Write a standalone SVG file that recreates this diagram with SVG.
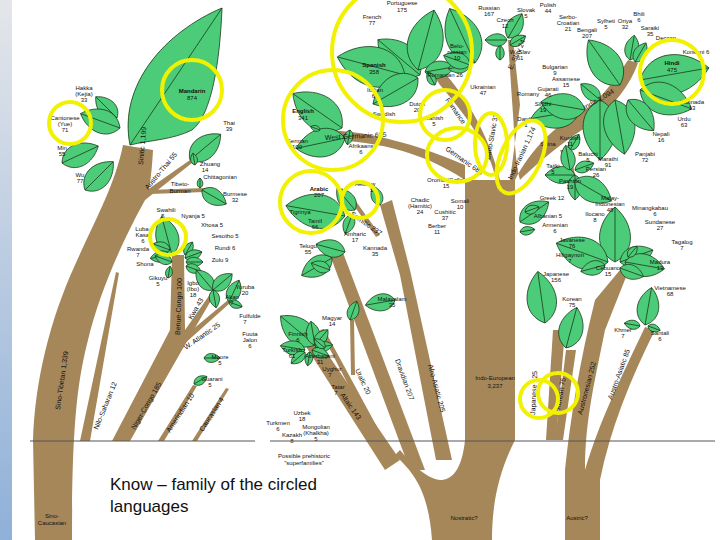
<svg xmlns="http://www.w3.org/2000/svg" width="720" height="540" viewBox="0 0 720 540">
<defs>
<linearGradient id="side" x1="0" y1="0" x2="0" y2="1"><stop offset="0" stop-color="#e4e6ea"/><stop offset="1" stop-color="#8fb0d8"/></linearGradient>
<path id="leaf" d="M0,0 C0.2,-0.4 0.7,-0.35 1,0 C0.7,0.35 0.2,0.4 0,0 Z M0,0 L1,0" fill="#4ccc78" stroke="#1a3a1a" stroke-width="0.8" vector-effect="non-scaling-stroke"/>
</defs>
<style>
.br{fill:#a6875a}
.lf path{fill:#4ccc78;stroke:#1a3a1a;stroke-width:0.8}
text{font-family:"Liberation Sans",Arial,sans-serif;fill:#111}
.s{font-size:6px;text-anchor:middle}
.yc{fill:none;stroke:#f2f200;stroke-width:4}
</style>
<rect width="720" height="540" fill="#fff"/>
<rect width="12" height="540" fill="url(#side)"/>
<g id="connectors">
<path class="br" d="M35,540 L33,440 C35,380 50,320 75,265 C95,220 115,185 123,145 L153,150 C152,170 150,185 148,195 C125,235 100,290 88,340 C78,380 72,420 72,540 Z"/>
<path class="br" d="M140,195 L190,160 L192,163 L145,200 Z"/>
<path class="br" d="M148,190 L205,188 L205,192 L150,194 Z"/>
<path class="br" d="M80,441 L116,272 L119,273 L90,441 Z"/>
<path class="br" d="M112,441 L170,330 L172,255 L184,255 L185,330 L213,290 L216,292 L182,350 L130,441 Z"/>
<path class="br" d="M180,340 L228,300 L230,303 L183,345 Z"/>
<path class="br" d="M158,441 L193,385 L197,386 L164,441 Z"/>
<path class="br" d="M192,441 L226,388 L229,389 L197,441 Z"/>
<path class="br" d="M305,345 L318,340 L400,460 L385,470 Z"/>
<path class="br" d="M320,330 L324,329 L395,460 L388,462 Z"/>
<path class="br" d="M330,255 L342,250 L425,470 L410,470 Z"/>
<path class="br" d="M380,205 L392,200 L410,270 L452,460 L436,460 L400,275 Z"/>
<path class="br" d="M350,200 L355,200 L380,235 L376,237 Z"/>
<path class="br" d="M350,320 L354,320 L355,375 L351,375 Z"/>
<path class="br" d="M395,455 C410,470 428,485 432,540 L492,540 C492,500 500,470 515,440 L515,180 C530,150 560,120 585,110 C600,100 615,80 628,60 L638,63 C630,85 615,105 590,125 C565,140 535,165 520,180 C515,160 515,140 512,100 L508,40 L513,40 L520,105 L510,180 L496,180 C490,150 470,120 440,85 L430,70 L440,68 C470,100 490,140 500,180 L465,180 C420,150 370,140 320,140 L320,130 C375,130 430,150 465,165 L465,440 C462,470 452,480 440,480 C425,478 410,462 400,450 Z"/>
<path class="br" d="M546,440 L553,330 L565,330 L556,440 Z"/>
<path class="br" d="M555,440 L566,350 L576,350 L563,440 Z"/>
<path class="br" d="M565,540 L565,470 C570,420 580,360 595,300 L620,270 L628,272 L605,330 C595,380 585,420 585,470 C600,420 620,380 645,327 L655,330 C630,380 610,430 600,480 L600,540 Z"/>
<path class="br" d="M560,150 L570,150 L575,175 L571,176 Z"/>
</g>
<g id="leaves" class="lf">
<path d="M130,145 C118,85 165,32 222,8 C220,60 212,115 192,130 C172,140 150,140 130,145 Z M130,145 L222,8"/>
<use href="#leaf" transform="translate(117,118) rotate(-135) scale(30)"/>
<use href="#leaf" transform="translate(120,128) rotate(200) scale(42)"/>
<use href="#leaf" transform="translate(62,163) rotate(-25) scale(40)"/>
<use href="#leaf" transform="translate(85,190) rotate(-45) scale(40)"/>
<use href="#leaf" transform="translate(190,160) rotate(-40) scale(40)"/>
<use href="#leaf" transform="translate(195,165) rotate(-100) scale(12)"/>
<use href="#leaf" transform="translate(200,188) rotate(-90) scale(10)"/>
<use href="#leaf" transform="translate(202,190) rotate(30) scale(28)"/>
<use href="#leaf" transform="translate(172,255) rotate(-105) scale(40)"/>
<use href="#leaf" transform="translate(170,250) rotate(200) scale(18)"/>
<use href="#leaf" transform="translate(170,255) rotate(170) scale(20)"/>
<use href="#leaf" transform="translate(172,262) rotate(200) scale(18)"/>
<use href="#leaf" transform="translate(185,255) rotate(-60) scale(15)"/>
<use href="#leaf" transform="translate(185,258) rotate(-20) scale(18)"/>
<use href="#leaf" transform="translate(186,262) rotate(0) scale(17)"/>
<use href="#leaf" transform="translate(186,266) rotate(20) scale(16)"/>
<use href="#leaf" transform="translate(168,278) rotate(-80) scale(12)"/>
<use href="#leaf" transform="translate(213,290) rotate(-130) scale(26)"/>
<use href="#leaf" transform="translate(213,290) rotate(-40) scale(25)"/>
<use href="#leaf" transform="translate(213,290) rotate(80) scale(18)"/>
<use href="#leaf" transform="translate(229,302) rotate(-65) scale(24)"/>
<use href="#leaf" transform="translate(229,302) rotate(20) scale(14)"/>
<use href="#leaf" transform="translate(204,358) rotate(0) scale(16)"/>
<use href="#leaf" transform="translate(194,384) rotate(-30) scale(15)"/>
<use href="#leaf" transform="translate(342,128) rotate(-145) scale(60)"/>
<use href="#leaf" transform="translate(345,138) rotate(168) scale(50)"/>
<use href="#leaf" transform="translate(350,130) rotate(100) scale(15)"/>
<use href="#leaf" transform="translate(320,130) rotate(-160) scale(10)"/>
<use href="#leaf" transform="translate(345,216) rotate(-170) scale(60)"/>
<use href="#leaf" transform="translate(355,210) rotate(-130) scale(28)"/>
<use href="#leaf" transform="translate(352,215) rotate(110) scale(20)"/>
<use href="#leaf" transform="translate(380,205) rotate(-110) scale(20)"/>
<use href="#leaf" transform="translate(345,252) rotate(195) scale(30)"/>
<use href="#leaf" transform="translate(332,258) rotate(150) scale(35)"/>
<use href="#leaf" transform="translate(330,270) rotate(200) scale(20)"/>
<use href="#leaf" transform="translate(350,320) rotate(-70) scale(20)"/>
<use href="#leaf" transform="translate(315,345) rotate(-140) scale(45)"/>
<use href="#leaf" transform="translate(315,345) rotate(-100) scale(24)"/>
<use href="#leaf" transform="translate(315,345) rotate(-50) scale(20)"/>
<use href="#leaf" transform="translate(315,348) rotate(-10) scale(18)"/>
<use href="#leaf" transform="translate(312,350) rotate(20) scale(18)"/>
<use href="#leaf" transform="translate(305,350) rotate(190) scale(25)"/>
<use href="#leaf" transform="translate(305,352) rotate(140) scale(18)"/>
<use href="#leaf" transform="translate(310,352) rotate(100) scale(14)"/>
<use href="#leaf" transform="translate(325,348) rotate(-140) scale(14)"/>
<use href="#leaf" transform="translate(395,300) rotate(170) scale(30)"/>
<use href="#leaf" transform="translate(420,75) rotate(-140) scale(55)"/>
<use href="#leaf" transform="translate(405,75) rotate(-165) scale(70)"/>
<use href="#leaf" transform="translate(418,70) rotate(-75) scale(62)"/>
<use href="#leaf" transform="translate(418,78) rotate(150) scale(52)"/>
<use href="#leaf" transform="translate(425,72) rotate(-10) scale(30)"/>
<use href="#leaf" transform="translate(435,85) rotate(-120) scale(15)"/>
<use href="#leaf" transform="translate(475,63) rotate(-115) scale(60)"/>
<use href="#leaf" transform="translate(500,60) rotate(-90) scale(15)"/>
<use href="#leaf" transform="translate(507,40) rotate(180) scale(22)"/>
<use href="#leaf" transform="translate(508,38) rotate(-60) scale(28)"/>
<use href="#leaf" transform="translate(510,45) rotate(-30) scale(18)"/>
<use href="#leaf" transform="translate(470,65) rotate(170) scale(22)"/>
<use href="#leaf" transform="translate(470,65) rotate(200) scale(28)"/>
<use href="#leaf" transform="translate(620,85) rotate(-125) scale(55)"/>
<use href="#leaf" transform="translate(630,60) rotate(-80) scale(25)"/>
<use href="#leaf" transform="translate(635,62) rotate(-60) scale(22)"/>
<use href="#leaf" transform="translate(640,80) rotate(-10) scale(70)"/>
<use href="#leaf" transform="translate(640,90) rotate(20) scale(55)"/>
<use href="#leaf" transform="translate(600,100) rotate(90) scale(60)"/>
<use href="#leaf" transform="translate(615,100) rotate(80) scale(55)"/>
<use href="#leaf" transform="translate(628,100) rotate(50) scale(40)"/>
<use href="#leaf" transform="translate(580,110) rotate(170) scale(50)"/>
<use href="#leaf" transform="translate(585,110) rotate(190) scale(45)"/>
<use href="#leaf" transform="translate(600,100) rotate(220) scale(25)"/>
<use href="#leaf" transform="translate(570,150) rotate(-60) scale(18)"/>
<use href="#leaf" transform="translate(575,175) rotate(180) scale(30)"/>
<use href="#leaf" transform="translate(575,175) rotate(90) scale(25)"/>
<use href="#leaf" transform="translate(575,170) rotate(-20) scale(20)"/>
<use href="#leaf" transform="translate(570,170) rotate(-100) scale(25)"/>
<use href="#leaf" transform="translate(575,180) rotate(30) scale(42)"/>
<use href="#leaf" transform="translate(520,222) rotate(-35) scale(35)"/>
<use href="#leaf" transform="translate(525,212) rotate(-20) scale(15)"/>
<use href="#leaf" transform="translate(520,232) rotate(-10) scale(15)"/>
<use href="#leaf" transform="translate(615,262) rotate(-90) scale(55)"/>
<use href="#leaf" transform="translate(608,262) rotate(200) scale(55)"/>
<use href="#leaf" transform="translate(620,262) rotate(-20) scale(35)"/>
<use href="#leaf" transform="translate(625,262) rotate(10) scale(40)"/>
<use href="#leaf" transform="translate(628,257) rotate(-50) scale(14)"/>
<use href="#leaf" transform="translate(605,265) rotate(165) scale(25)"/>
<use href="#leaf" transform="translate(620,268) rotate(20) scale(25)"/>
<use href="#leaf" transform="translate(545,323) rotate(-98) scale(52)"/>
<use href="#leaf" transform="translate(566,348) rotate(-75) scale(42)"/>
<use href="#leaf" transform="translate(645,325) rotate(-80) scale(38)"/>
<use href="#leaf" transform="translate(640,326) rotate(190) scale(16)"/>
<use href="#leaf" transform="translate(648,326) rotate(20) scale(13)"/>
</g>
<g id="labels">
<text class="s" x="84" y="90">Hakka</text><text class="s" x="84" y="96">(Kejia)</text><text class="s" x="84" y="102">33</text>
<text class="s" x="65" y="120">Cantonese</text><text class="s" x="65" y="126">(Yue)</text><text class="s" x="65" y="132">71</text>
<text class="s" x="62" y="150">Min</text><text class="s" x="62" y="156">55</text>
<text class="s" x="80" y="177">Wu</text><text class="s" x="80" y="183">77</text>
<text class="s" x="192" y="93" font-weight="bold">Mandarin</text><text class="s" x="192" y="100">874</text>
<text class="s" x="229" y="125">Thai</text><text class="s" x="229" y="131">39</text>
<text class="s" x="210" y="166">Zhuang</text><text class="s" x="205" y="172">14</text>
<text class="s" x="220" y="179">Chittagonian</text>
<text class="s" x="180" y="186">Tibeto-</text><text class="s" x="180" y="193">Burman</text>
<text class="s" x="235" y="196">Burmese</text><text class="s" x="235" y="202">32</text>
<text class="s" x="166" y="212">Swahili</text><text class="s" x="163" y="218">5</text>
<text class="s" x="193" y="218">Nyanja 5</text><text class="s" x="212" y="227">Xhosa 5</text>
<text class="s" x="225" y="238">Sesotho 5</text><text class="s" x="225" y="250">Rundi 6</text><text class="s" x="220" y="262">Zulu 9</text>
<text class="s" x="143" y="231">Luba-</text><text class="s" x="143" y="237">Kasai</text><text class="s" x="143" y="243">6</text>
<text class="s" x="138" y="251">Rwanda</text><text class="s" x="138" y="257">7</text>
<text class="s" x="145" y="266">Shona</text><text class="s" x="158" y="280">Gikuyu</text><text class="s" x="158" y="286">5</text>
<text class="s" x="193" y="285">Igbo</text><text class="s" x="193" y="291">(Ibo)</text><text class="s" x="193" y="297">18</text>
<text class="s" x="245" y="289">Yoruba</text><text class="s" x="245" y="295">20</text>
<text class="s" x="232" y="299">Akan</text><text class="s" x="232" y="305">7</text>
<text class="s" x="250" y="318">Fulfulde</text><text class="s" x="245" y="324">7</text>
<text class="s" x="250" y="336">Fuuta</text><text class="s" x="250" y="342">Jalon</text><text class="s" x="250" y="348">6</text>
<text class="s" x="220" y="359">Moore</text><text class="s" x="220" y="365">5</text>
<text class="s" x="212" y="381">Guarani</text><text class="s" x="210" y="387">5</text>
<text class="s" x="308" y="248">Telugu</text><text class="s" x="308" y="254">55</text>
<text class="s" x="315" y="223">Tamil</text><text class="s" x="315" y="229">66</text>
<text class="s" x="375" y="250">Kannada</text><text class="s" x="375" y="256">35</text>
<text class="s" x="392" y="301">Malayalam</text><text class="s" x="392" y="307">35</text>
<text class="s" x="332" y="320">Magyar</text><text class="s" x="332" y="326">14</text>
<text class="s" x="298" y="336">Finnish</text><text class="s" x="298" y="342">6</text>
<text class="s" x="292" y="352">Turkish</text><text class="s" x="292" y="358">61</text>
<text class="s" x="320" y="358">Azerbaijani</text><text class="s" x="320" y="364">31</text>
<text class="s" x="332" y="371">Uyghur</text><text class="s" x="330" y="377">7</text>
<text class="s" x="338" y="389">Tatar</text><text class="s" x="336" y="395">7</text>
<text class="s" x="302" y="415">Uzbek</text><text class="s" x="302" y="421">18</text>
<text class="s" x="278" y="425">Turkmen</text><text class="s" x="278" y="431">6</text>
<text class="s" x="292" y="437">Kazakh</text><text class="s" x="292" y="443">8</text>
<text class="s" x="316" y="429">Mongolian</text><text class="s" x="316" y="435">(Khalkha)</text><text class="s" x="316" y="441">5</text>
<text class="s" x="304" y="458">Possible prehistoric</text><text class="s" x="304" y="465">"superfamilies"</text>
<text class="s" x="303" y="113" font-weight="bold">English</text><text class="s" x="303" y="120">341</text>
<text class="s" x="297" y="143">German</text><text class="s" x="297" y="149">100</text>
<text class="s" x="319" y="191" font-weight="bold">Arabic</text><text class="s" x="319" y="197">207</text>
<text class="s" x="300" y="214">Tigrinya</text>
<text class="s" x="365" y="186">Hebrew</text><text class="s" x="372" y="192">5</text>
<text class="s" x="355" y="236">Amharic</text><text class="s" x="355" y="242">17</text>
<text class="s" x="372" y="19">French</text><text class="s" x="372" y="25">77</text>
<text class="s" x="374" y="67" font-weight="bold">Spanish</text><text class="s" x="374" y="74">358</text>
<text class="s" x="402" y="5">Portuguese</text><text class="s" x="402" y="12">175</text>
<text class="s" x="457" y="48">Belo-</text><text class="s" x="457" y="54">russian</text><text class="s" x="457" y="60">10</text>
<text class="s" x="445" y="77">Romanian 26</text>
<text class="s" x="375" y="92">Italian</text><text class="s" x="375" y="98">60</text>
<text class="s" x="483" y="89">Ukrainian</text><text class="s" x="483" y="95">47</text>
<text class="s" x="489" y="10">Russian</text><text class="s" x="489" y="16">167</text>
<text class="s" x="526" y="12">Slovak</text><text class="s" x="526" y="18">5</text>
<text class="s" x="548" y="7">Polish</text><text class="s" x="548" y="13">44</text>
<text class="s" x="505" y="22">Czech</text><text class="s" x="505" y="28">12</text>
<text class="s" x="568" y="19">Serbo-</text><text class="s" x="568" y="25">Croatian</text><text class="s" x="568" y="31">21</text>
<text class="s" x="520" y="54">W. Slav</text><text class="s" x="520" y="60">61</text>
<text class="s" x="555" y="69">Bulgarian</text><text class="s" x="555" y="75">9</text>
<text class="s" x="566" y="81">Assamese</text><text class="s" x="566" y="87">15</text>
<text class="s" x="548" y="91">Gujarati</text><text class="s" x="548" y="97">46</text>
<text class="s" x="543" y="106">Sindhi</text><text class="s" x="543" y="112">19</text>
<text class="s" x="528" y="96">Romany</text>
<text class="s" x="526" y="121">Dardic</text><text class="s" x="526" y="127">1</text>
<text class="s" x="587" y="32">Bengali</text><text class="s" x="587" y="38">207</text>
<text class="s" x="606" y="23">Sylheti</text><text class="s" x="606" y="29">5</text>
<text class="s" x="625" y="23">Oriya</text><text class="s" x="625" y="29">32</text>
<text class="s" x="639" y="16">Bhili</text><text class="s" x="639" y="22">6</text>
<text class="s" x="650" y="30">Saraiki</text><text class="s" x="650" y="36">35</text>
<text class="s" x="666" y="40">Deccan</text>
<text class="s" x="696" y="54">Konkani 6</text>
<text class="s" x="672" y="65" font-weight="bold">Hindi</text><text class="s" x="672" y="72">475</text>
<text class="s" x="692" y="104">Kannada</text><text class="s" x="692" y="110">13</text>
<text class="s" x="684" y="121">Urdu</text><text class="s" x="684" y="127">63</text>
<text class="s" x="661" y="136">Nepali</text><text class="s" x="661" y="142">16</text>
<text class="s" x="645" y="156">Panjabi</text><text class="s" x="645" y="162">72</text>
<text class="s" x="608" y="161">Marathi</text><text class="s" x="608" y="167">91</text>
<text class="s" x="570" y="140">Kurdish</text><text class="s" x="570" y="146">11</text>
<text class="s" x="588" y="156">Baluchi</text><text class="s" x="588" y="162">5</text>
<text class="s" x="548" y="146">Shina</text>
<text class="s" x="553" y="168">Tajiki</text><text class="s" x="553" y="174">5</text>
<text class="s" x="596" y="171">Persian</text><text class="s" x="596" y="177">26</text>
<text class="s" x="570" y="183">Pashtun</text><text class="s" x="570" y="189">19</text>
<text class="s" x="552" y="200">Greek 12</text>
<text class="s" x="548" y="218">Albanian 5</text>
<text class="s" x="555" y="227">Armenian</text><text class="s" x="555" y="233">6</text>
<text class="s" x="610" y="200">Malay-</text><text class="s" x="610" y="206">Indonesian</text><text class="s" x="610" y="212">48</text>
<text class="s" x="650" y="210">Minangkabau</text><text class="s" x="655" y="216">6</text>
<text class="s" x="660" y="224">Sundanese</text><text class="s" x="660" y="230">27</text>
<text class="s" x="682" y="244">Tagalog</text><text class="s" x="682" y="250">7</text>
<text class="s" x="595" y="216">Ilocano</text><text class="s" x="595" y="222">8</text>
<text class="s" x="572" y="242">Javanese</text><text class="s" x="572" y="248">76</text>
<text class="s" x="570" y="257">Hiligaynon</text><text class="s" x="570" y="263">7</text>
<text class="s" x="608" y="270">Cebuano</text><text class="s" x="608" y="276">15</text>
<text class="s" x="660" y="264">Madura</text><text class="s" x="660" y="270">13</text>
<text class="s" x="556" y="276">Japanese</text><text class="s" x="556" y="282">156</text>
<text class="s" x="572" y="301">Korean</text><text class="s" x="572" y="307">75</text>
<text class="s" x="670" y="290">Vietnamese</text><text class="s" x="670" y="296">68</text>
<text class="s" x="623" y="332">Khmer</text><text class="s" x="623" y="338">7</text>
<text class="s" x="660" y="335">Santali</text><text class="s" x="660" y="341">6</text>
<text class="s" x="446" y="182">Oromo (Galla)</text><text class="s" x="446" y="188">15</text>
<text class="s" x="420" y="202">Chadic</text><text class="s" x="420" y="208">(Hamitic)</text><text class="s" x="420" y="214">24</text>
<text class="s" x="460" y="203">Somali</text><text class="s" x="460" y="209">10</text>
<text class="s" x="445" y="214">Cushitic</text><text class="s" x="445" y="220">37</text>
<text class="s" x="437" y="228">Berber</text><text class="s" x="437" y="234">11</text>
<text class="s" x="384" y="116">Swedish</text><text class="s" x="384" y="122">9</text>
<text class="s" x="417" y="106">Dutch</text><text class="s" x="417" y="112">20</text>
<text class="s" x="434" y="120">Danish</text><text class="s" x="434" y="126">5</text>
<text class="s" x="361" y="148">Afrikaans</text><text class="s" x="361" y="154">6</text>
<text class="s" x="495" y="380">Indo-European</text><text class="s" x="495" y="388">3,237</text>
<text class="s" x="464" y="520">Nostratic?</text><text class="s" x="577" y="520">Austric?</text>
<text class="s" x="52" y="518">Sino-</text><text class="s" x="52" y="525">Caucasian</text>
<g font-size="7">
<text transform="translate(143,165) rotate(-85)">Sinitic 1,199</text>
<text transform="translate(148,190) rotate(-50)">Austro-Thai 55</text>
<text transform="translate(60,410) rotate(-82)">Sino-Tibetan 1,339</text>
<text transform="translate(98,430) rotate(-68)">Nilo-Saharan 12</text>
<text transform="translate(135,430) rotate(-60)">Niger-Congo 185</text>
<text transform="translate(180,335) rotate(-88)">Benue-Congo 100</text>
<text transform="translate(192,320) rotate(-60)">Kwa 43</text>
<text transform="translate(186,350) rotate(-35)">W. Atlantic 25</text>
<text transform="translate(170,433) rotate(-57)">Amerindian 10</text>
<text transform="translate(203,432) rotate(-57)">Caucasian 4</text>
<text transform="translate(340,395) rotate(55)">Altaic 143</text>
<text transform="translate(355,370) rotate(65)">Uralic 20</text>
<text transform="translate(395,360) rotate(70)">Dravidian 207</text>
<text transform="translate(428,365) rotate(75)">Afro-Asiatic 205</text>
<text transform="translate(535,415) rotate(-87)">Japanese 125</text>
<text transform="translate(560,410) rotate(-80)">Korean 75</text>
<text transform="translate(582,415) rotate(-75)">Austronesian 252</text>
<text transform="translate(612,400) rotate(-70)">Austro-Asiatic 85</text>
<text transform="translate(325,140) rotate(-3)">West Germanic 665</text>
<text transform="translate(445,150) rotate(35)">Germanic 686</text>
<text transform="translate(490,160) rotate(-80)">Balto-Slavic 3?</text>
<text transform="translate(512,180) rotate(-65)">Indo-Iranian 1,174</text>
<text transform="translate(585,110) rotate(-30)">Indic 1,094</text>
<text transform="translate(350,215) rotate(35)">Semitic 237</text>
<text transform="translate(445,100) rotate(55)">Romance</text>
<text transform="translate(512,70) rotate(-65)">E. Slav 24</text>
</g>
</g>
<line x1="30" y1="441" x2="255" y2="441" stroke="#555" stroke-width="1"/>
<line x1="270" y1="441" x2="715" y2="441" stroke="#555" stroke-width="1"/>
<g id="circles">
<circle class="yc" cx="192" cy="90" r="30"/>
<circle class="yc" cx="70" cy="123" r="21"/>
<circle class="yc" cx="168" cy="237" r="18"/>
<circle class="yc" cx="333" cy="120" r="50"/>
<circle class="yc" cx="402" cy="52" r="70"/>
<circle class="yc" cx="311" cy="202" r="31"/>
<circle class="yc" cx="360" cy="200" r="18"/>
<circle class="yc" cx="445" cy="115" r="25"/>
<ellipse class="yc" cx="457" cy="155" rx="30" ry="27"/>
<ellipse class="yc" cx="491" cy="144" rx="16" ry="31"/>
<ellipse class="yc" cx="521" cy="157" rx="20" ry="39" transform="rotate(25 521 157)"/>
<circle class="yc" cx="672" cy="72" r="32"/>
<circle class="yc" cx="539" cy="399" r="19"/>
<circle class="yc" cx="558" cy="393" r="20"/>
</g>
<text x="110" y="490" font-size="17">Know – family of the circled</text>
<text x="110" y="512" font-size="17">languages</text>
</svg>
